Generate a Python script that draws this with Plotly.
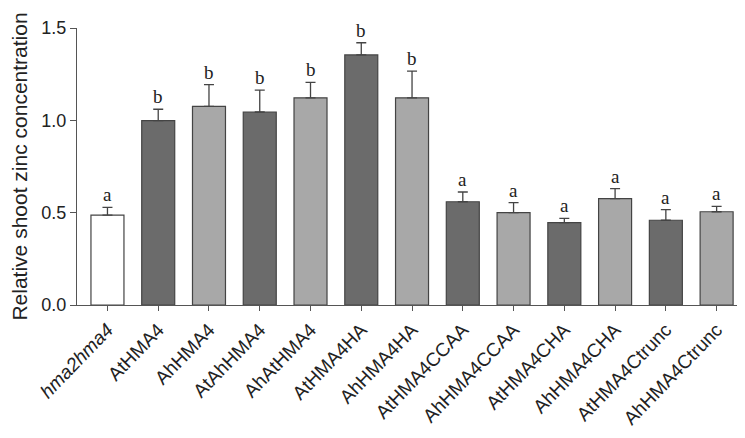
import plotly.graph_objects as go

# Data
lines = ['hma2hma4', 'AtHMA4', 'AhHMA4', 'AtAhHMA4', 'AhAtHMA4', 'AtHMA4HA',
         'AhHMA4HA', 'AtHMA4CCAA', 'AhHMA4CCAA', 'AtHMA4CHA', 'AhHMA4CHA',
         'AtHMA4Ctrunc', 'AhHMA4Ctrunc']
zinc = [0.487, 0.998, 1.076, 1.045, 1.122, 1.354, 1.122,
        0.559, 0.500, 0.446, 0.576, 0.459, 0.505]
sem = [0.042, 0.062, 0.117, 0.119, 0.084, 0.066, 0.145,
       0.053, 0.054, 0.023, 0.054, 0.057, 0.029]
letters = ['a', 'b', 'b', 'b', 'b', 'b', 'b', 'a', 'a', 'a', 'a', 'a', 'a']
fills = ['#ffffff', '#6b6b6b', '#a8a8a8', '#6b6b6b', '#a8a8a8', '#6b6b6b', '#a8a8a8',
         '#6b6b6b', '#a8a8a8', '#6b6b6b', '#a8a8a8', '#6b6b6b', '#a8a8a8']

tick_text = ['<i>hma2hma4</i>'] + lines[1:]

fig = go.Figure()

fig.add_trace(go.Bar(
    x=lines,
    y=zinc,
    width=0.65,
    marker=dict(color=fills, line=dict(color='#444444', width=1.2)),
    error_y=dict(type='data', array=sem, arrayminus=[0] * len(sem),
                 color='#444444', thickness=1.3, width=5),
    showlegend=False
))

# significance letters above the error bars
for name, v, e, t in zip(lines, zinc, sem, letters):
    fig.add_annotation(x=name, y=v + e, text=t, showarrow=False,
                       yanchor='bottom', yshift=0,
                       font=dict(family='Liberation Serif', size=19, color='#222222'))

# page has a small offset, so margins are trimmed to keep the plot in place
fig.update_layout(
    width=745, height=438,
    plot_bgcolor='white', paper_bgcolor='white',
    margin=dict(t=20, l=69, r=11, b=141),
    font=dict(family='Liberation Sans', color='#222222'),
)

fig.update_xaxes(
    range=[-0.6, 12.5], automargin=False,
    tickvals=lines, ticktext=tick_text,
    tickangle=-46, tickfont=dict(size=19),
    showline=True, linecolor='#555555', linewidth=1.3,
    ticks='outside', ticklen=5, tickcolor='#555555',
    showgrid=False, zeroline=False
)

fig.update_yaxes(
    range=[0, 1.5], automargin=False,
    tickvals=[0, 0.5, 1.0, 1.5], ticktext=['0.0', '0.5', '1.0', '1.5'],
    tickfont=dict(size=18),
    title=dict(text='Relative shoot zinc concentration', font=dict(size=21), standoff=16),
    showline=True, linecolor='#555555', linewidth=1.3,
    ticks='outside', ticklen=6, tickcolor='#555555',
    showgrid=False, zeroline=False
)

fig.write_html("out.html")
